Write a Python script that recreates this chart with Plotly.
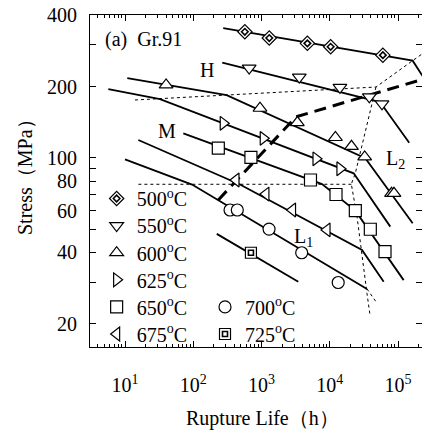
import plotly.graph_objects as go

FONT = "Liberation Serif"

# ---------------- data: rupture life (h) / stress (MPa) ----------------
t500 = [570, 1300, 4700, 10300, 60000]
s500 = [340, 320, 304, 294, 271]
t550 = [660, 3580, 14100, 38000, 58300]
s550 = [239, 219, 198.5, 181, 169]
t600 = [40, 950, 3350, 12100, 20800, 32500, 80400, 87300]
s600 = [203, 162, 141, 122, 112, 101, 71, 71]
t625 = [275, 1060, 6290, 14100]
s625 = [140, 121, 99.2, 90.1]
t650 = [233, 700, 5220, 12350, 23700, 39300, 64500]
s650 = [110, 100.5, 80.8, 70.2, 60, 50.1, 40.3]
t675 = [423, 1160, 2850, 9120]
s675 = [80.8, 70.5, 60.4, 49.8]
t700 = [346, 442, 1290, 3880, 13300]
s700 = [60.4, 60.4, 50.2, 39.9, 29.9]
t725 = [700]
s725 = [39.9]

# fitted (piecewise) lines
lt500 = [275, 164000, 250000]
ls500 = [352, 257, 213]
lt550 = [266, 54500, 146000]
ls550 = [252, 172, 116]
lt600 = [10.8, 309, 33200, 164000]
ls600 = [217, 184, 99.7, 53.1]
lt625 = [5.7, 32.6, 22400, 77100]
ls625 = [195, 177, 86.2, 51.4]
lt650 = [71.5, 7700, 23700, 121000]
ls650 = [127, 77.6, 60, 30.6]
lt675 = [15.7, 484, 29700, 61700]
ls675 = [119, 77.3, 41.0, 30.1]
lt700 = [10, 96, 35100]
ls700 = [98.7, 77.3, 28.1]
lt700_tail = [35100, 47600]
ls700_tail = [28.1, 24.8]
lt725 = [221, 3460]
ls725 = [47.9, 30.1]

# region boundaries
H_t = [14, 47600, 164000, 250000]
H_s = [175.5, 199, 257, 280]
L2_t = [47600, 23700, 20700, 25100, 35100, 38900]
L2_s = [199, 86.2, 77.7, 56.6, 26.9, 21.8]
L1_t = [15.7, 20700]
L1_s = [77.5, 77.5]
M_t = [233, 3200, 250000]
M_s = [66.6, 149, 216]

x_tickvals = [10, 100, 1000, 10000, 100000]
x_ticktext = ["10<sup>1</sup>", "10<sup>2</sup>", "10<sup>3</sup>", "10<sup>4</sup>", "10<sup>5</sup>"]
y_tickvals = [20, 40, 60, 80, 100, 200, 400]
y_ticktext = ["20", "40", "60", "80", "100", "200", "400"]
y_minorvals = [30, 50, 70, 90, 300]

temps = ["500", "550", "600", "625", "650", "675", "700", "725"]
series = {
    "500": (t500, s500, lt500, ls500, "diamond", 11),
    "550": (t550, s550, lt550, ls550, "triangle-down", 12),
    "600": (t600, s600, lt600, ls600, "triangle-up", 12),
    "625": (t625, s625, lt625, ls625, "triangle-right", 12),
    "650": (t650, s650, lt650, ls650, "square", 12),
    "675": (t675, s675, lt675, ls675, "triangle-left", 12),
    "700": (t700, s700, lt700, ls700, "circle", 12),
    "725": (t725, s725, lt725, ls725, "square", 11),
}

# legend slots (column x in paper, row y in paper)
col_x = [0.02, 0.3464]
row_y = [0.4473, 0.3657, 0.2840, 0.2024, 0.1208, 0.0392]
slot = {"500": (0, 0), "550": (0, 1), "600": (0, 2), "625": (0, 3),
        "650": (0, 4), "675": (0, 5), "700": (1, 4), "725": (1, 5)}

fig = go.Figure()

BLACK = "#000000"
thin = dict(color=BLACK, width=1, dash="3px,3px")

# boundaries
fig.add_trace(go.Scatter(x=H_t, y=H_s, mode="lines", line=thin, showlegend=False))
fig.add_trace(go.Scatter(x=L2_t, y=L2_s, mode="lines", line=thin, showlegend=False))
fig.add_trace(go.Scatter(x=L1_t, y=L1_s, mode="lines", line=thin, showlegend=False))
fig.add_trace(go.Scatter(x=lt700_tail, y=ls700_tail, mode="lines", line=thin, showlegend=False))

# fitted lines
for T in temps:
    t, s, lt, ls, sym, size = series[T]
    fig.add_trace(go.Scatter(x=lt, y=ls, mode="lines", line=dict(color=BLACK, width=1.8),
                             showlegend=False))

fig.add_trace(go.Scatter(x=M_t, y=M_s, mode="lines",
                         line=dict(color=BLACK, width=3, dash="12px,7px"), showlegend=False))

legends = {}
for i, T in enumerate(temps):
    t, s, lt, ls, sym, size = series[T]
    key = "legend" if i == 0 else f"legend{i+1}"
    c, r = slot[T]
    legends[key] = (col_x[c], row_y[r])
    fig.add_trace(go.Scatter(
        x=t, y=s, mode="markers", name=f"{T}<sup>o</sup>C", legend=key,
        marker=dict(symbol=sym, size=size, color="white", line=dict(color=BLACK, width=1.2)),
    ))

# inner symbols (double diamond for 500, double square for 725)
legends["legend9"] = (col_x[0], row_y[0])
fig.add_trace(go.Scatter(x=t500, y=s500, mode="markers", name=" ", legend="legend9",
                         marker=dict(symbol="diamond-open", size=5, color=BLACK,
                                     line=dict(color=BLACK, width=1.6))))
legends["legend10"] = (col_x[1], row_y[5])
fig.add_trace(go.Scatter(x=t725, y=s725, mode="markers", name=" ", legend="legend10",
                         marker=dict(symbol="square-open", size=5, color=BLACK,
                                     line=dict(color=BLACK, width=1.6))))

layout_legends = {}
for key, (lx, ly) in legends.items():
    layout_legends[key] = dict(x=lx, y=ly, xanchor="left", yanchor="middle",
                               bgcolor="rgba(0,0,0,0)", borderwidth=0,
                               font=dict(family=FONT, size=20, color=BLACK))

ann = [
    dict(text="(a)  Gr.91", x=0.161, y=0.9247),
    dict(text="H", x=0.3515, y=0.834),
    dict(text="M", x=0.231, y=0.6515),
    dict(text="L<sub>2</sub>", x=0.9187, y=0.5633),
    dict(text="L<sub>1</sub>", x=0.6416, y=0.3313),
    dict(text="Rupture Life（h）", x=0.521, y=-0.2139),
    dict(text="Stress（MPa）", x=-0.1958, y=0.527, textangle=-90),
]
annotations = []
for a in ann:
    d = dict(xref="paper", yref="paper", showarrow=False, xanchor="center", yanchor="middle",
             font=dict(family=FONT, size=20, color=BLACK))
    d.update(a)
    annotations.append(d)

fig.update_layout(
    width=422, height=431,
    margin=dict(l=90, r=0, t=15, b=84),
    paper_bgcolor="white", plot_bgcolor="white",
    font=dict(family=FONT, size=20, color=BLACK),
    annotations=annotations,
    **layout_legends,
)
fig.update_xaxes(
    type="log", range=[0.4872, 5.3516],
    showline=True, linecolor=BLACK, linewidth=1, mirror="ticks",
    ticks="inside", ticklen=6, tickcolor=BLACK, tickwidth=1,
    tickvals=x_tickvals, ticktext=x_ticktext, ticklabelstandoff=20,
    minor=dict(ticks="inside", ticklen=3, dtick="D1", tickcolor=BLACK, showgrid=False),
    showgrid=False, zeroline=False,
    tickfont=dict(family=FONT, size=20, color=BLACK),
)
fig.update_yaxes(
    type="log", range=[1.2041, 2.6021],
    showline=True, linecolor=BLACK, linewidth=1, mirror="ticks",
    ticks="inside", ticklen=6, tickcolor=BLACK, tickwidth=1,
    tickvals=y_tickvals, ticktext=y_ticktext, ticklabelstandoff=8,
    minor=dict(ticks="inside", ticklen=6, tickvals=y_minorvals, tickcolor=BLACK, showgrid=False),
    showgrid=False, zeroline=False,
    tickfont=dict(family=FONT, size=20, color=BLACK),
)

fig.write_html("out.html", config={"displayModeBar": False},
               post_script="document.body.style.margin='0';document.body.style.overflow='hidden';")
